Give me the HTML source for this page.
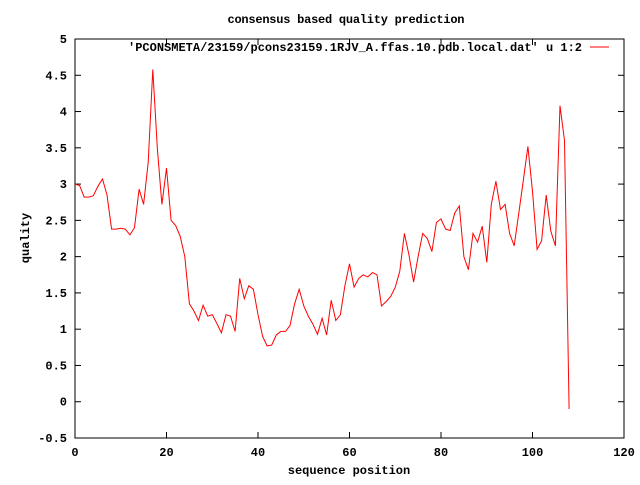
<!DOCTYPE html>
<html><head><meta charset="utf-8"><style>
body{margin:0;background:#fff}
svg text{font-family:"Liberation Mono","DejaVu Sans Mono",monospace;font-size:12px;font-weight:bold;fill:#000}
</style></head><body>
<svg id="chart" width="640" height="480" xmlns="http://www.w3.org/2000/svg">
<rect width="640" height="480" fill="#fff"/>
<text x="346" y="23" text-anchor="middle" textLength="237">consensus based quality prediction</text>
<rect x="75" y="39" width="549" height="399" fill="none" stroke="#000" stroke-width="1"/>
<g id="axes"></g>
<text x="349" y="474" text-anchor="middle">sequence position</text>
<text transform="translate(29,238) rotate(-90)" text-anchor="middle">quality</text>
<text x="128" y="51" textLength="454">'PCONSMETA/23159/pcons23159.1RJV_A.ffas.10.pdb.local.dat' u 1:2</text>
<line x1="590" y1="47" x2="609" y2="47" stroke="#f00" stroke-width="1"/>
<polyline id="series" fill="none" stroke="#f00" stroke-width="1"/>
</svg>
<script>
const xTicks=[0,20,40,60,80,100,120];
const yTicks=[-0.5,0,0.5,1,1.5,2,2.5,3,3.5,4,4.5,5];
const yLabels=["-0.5","0","0.5","1","1.5","2","2.5","3","3.5","4","4.5","5"];
const quality=[3.0,2.98,2.82,2.82,2.84,2.97,3.07,2.85,2.38,2.38,2.39,2.38,2.3,2.4,2.93,2.72,3.3,4.58,3.5,2.72,3.22,2.5,2.43,2.28,2.0,1.35,1.25,1.12,1.33,1.18,1.2,1.08,0.95,1.2,1.18,0.97,1.7,1.42,1.6,1.55,1.2,0.9,0.77,0.78,0.92,0.97,0.97,1.05,1.35,1.55,1.32,1.18,1.07,0.93,1.15,0.92,1.4,1.12,1.2,1.6,1.9,1.58,1.7,1.75,1.72,1.78,1.75,1.32,1.38,1.45,1.58,1.8,2.32,2.02,1.65,2.0,2.32,2.25,2.07,2.47,2.52,2.38,2.36,2.6,2.7,2.0,1.82,2.32,2.2,2.42,1.92,2.72,3.04,2.65,2.72,2.32,2.15,2.6,3.05,3.52,2.9,2.1,2.22,2.85,2.35,2.15,4.08,3.6,-0.1];
const X0=75,X1=624,Y0=438,Y1=39;
const sx=v=>X0+(v-0)/(120-0)*(X1-X0);
const sy=v=>Y0-(v+0.5)/(5.5)*(Y0-Y1);
const NS="http://www.w3.org/2000/svg";
const axes=document.getElementById('axes');
function mk(tag,attrs){const e=document.createElementNS(NS,tag);for(const k in attrs)e.setAttribute(k,attrs[k]);axes.appendChild(e);return e;}
xTicks.forEach(t=>{
  const x=sx(t);
  const a=mk('line',{x1:x,y1:Y0,x2:x,y2:Y0-6,stroke:'#000'});
  
  
  const b=mk('line',{x1:x,y1:Y1,x2:x,y2:Y1+6,stroke:'#000'});
  
  
  const l=mk('text',{x:x,y:456,'text-anchor':'middle'});l.textContent=t;
  
  
});
yTicks.forEach((t,i)=>{
  const y=sy(t);
  const a=mk('line',{x1:X0,y1:y,x2:X0+6,y2:y,stroke:'#000'});
  
  
  const b=mk('line',{x1:X1,y1:y,x2:X1-6,y2:y,stroke:'#000'});
  
  
  const l=mk('text',{x:67,y:y+4,'text-anchor':'end'});l.textContent=yLabels[i];
  
  
});
document.getElementById('series').setAttribute('points',quality.map((v,i)=>sx(i).toFixed(1)+','+sy(v).toFixed(1)).join(' '));
</script>
</body></html>
